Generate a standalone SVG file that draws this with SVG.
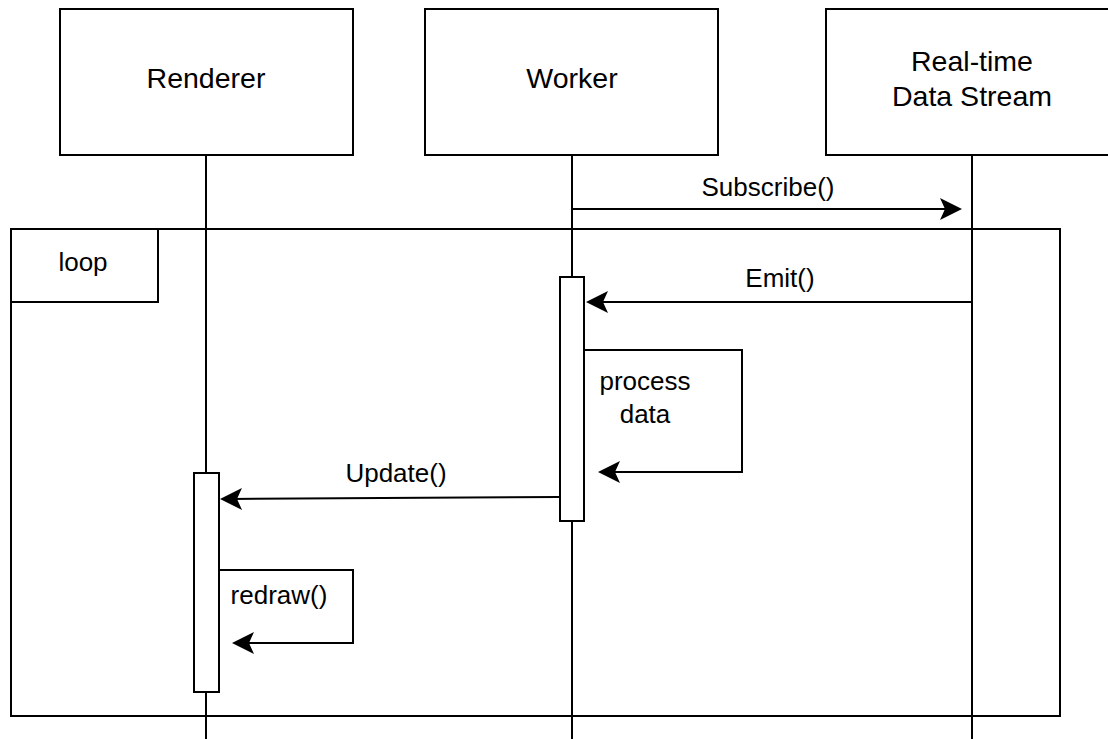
<svg xmlns="http://www.w3.org/2000/svg" width="1108" height="739" viewBox="0 0 1108 739">
  <style>
    .box { fill: #ffffff; stroke: #000000; stroke-width: 2; }
    .life { fill: none; stroke: #000000; stroke-width: 2; }
    .msg { fill: none; stroke: #000000; stroke-width: 2; marker-end: url(#arrow); }
    .frame { fill: none; stroke: #000000; stroke-width: 2; }
    text { font-family: "Liberation Sans", Arial, Helvetica, sans-serif; fill: #000000; }
    .lbl { font-size: 28.5px; text-anchor: middle; }
    .mlbl { font-size: 26px; text-anchor: middle; }
  </style>
  <defs>
    <marker id="arrow" markerUnits="userSpaceOnUse" markerWidth="40" markerHeight="40" refX="0" refY="0" orient="auto" overflow="visible">
      <path d="M10,0 L-12,-11 L-7,0 L-12,11 Z" fill="#000000" stroke="none"/>
    </marker>
  </defs>
  <rect width="1108" height="739" fill="#ffffff"/>

  <!-- lifelines -->
  <g id="lifelines">
    <line class="life" x1="206" y1="155" x2="206" y2="739"/>
    <line class="life" x1="572" y1="155" x2="572" y2="739"/>
    <line class="life" x1="972" y1="155" x2="972" y2="739"/>
  </g>

  <!-- loop combined fragment -->
  <g id="loop-frame">
    <rect class="frame" x="11" y="229" width="1049" height="487"/>
    <rect class="frame" x="11" y="229" width="147" height="73"/>
    <text class="mlbl" x="83" y="271">loop</text>
  </g>

  <!-- participants -->
  <g id="renderer">
    <rect class="box" x="60" y="9" width="293" height="146"/>
    <text class="lbl" x="206" y="88">Renderer</text>
  </g>
  <g id="worker">
    <rect class="box" x="425" y="9" width="293" height="146"/>
    <text class="lbl" x="572" y="88">Worker</text>
  </g>
  <g id="data-stream">
    <rect class="box" x="826" y="9" width="293" height="146"/>
    <text class="lbl" x="972" y="71">Real-time</text>
    <text class="lbl" x="972" y="106">Data Stream</text>
  </g>

  <!-- activation bars -->
  <g id="worker-activation">
    <rect class="box" x="560" y="277" width="24" height="244"/>
  </g>
  <g id="renderer-activation">
    <rect class="box" x="194" y="473" width="25" height="219"/>
  </g>

  <!-- messages -->
  <g id="connectors">
    <line class="msg" x1="572" y1="209" x2="952" y2="209"/>
    <line class="msg" x1="973" y1="302" x2="596" y2="302"/>
    <path class="msg" d="M584,350 H742 V472 H608"/>
    <line class="msg" x1="559" y1="497" x2="230" y2="499"/>
    <path class="msg" d="M219,570 H353 V643 H242"/>
  </g>

  <!-- message labels -->
  <g id="message-labels">
    <text class="mlbl" x="768" y="196">Subscribe()</text>
    <text class="mlbl" x="780" y="287">Emit()</text>
    <text class="mlbl" x="645" y="390">process</text>
    <text class="mlbl" x="645" y="423">data</text>
    <text class="mlbl" x="396" y="482">Update()</text>
    <text class="mlbl" x="279" y="604">redraw()</text>
  </g>
</svg>
